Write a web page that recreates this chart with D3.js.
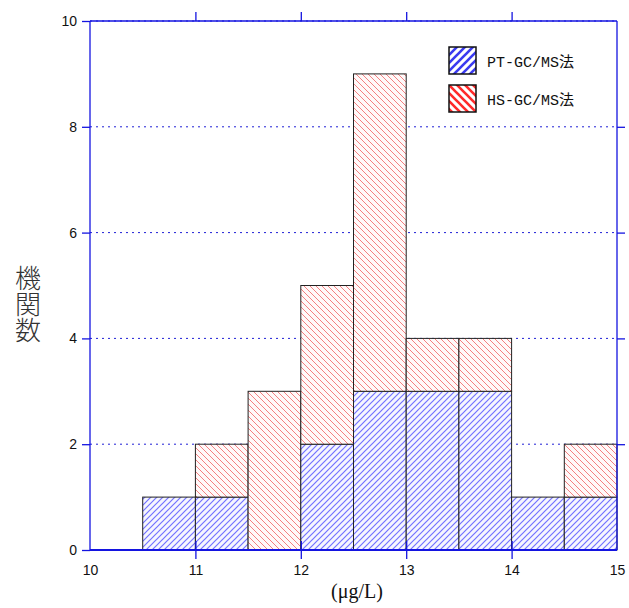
<!DOCTYPE html>
<html>
<head>
<meta charset="utf-8">
<script src="https://cdn.jsdelivr.net/npm/d3@7/dist/d3.min.js"></script>
<style>
  html, body { margin: 0; padding: 0; background: #fff; }
  svg { display: block; }
</style>
</head>
<body>
<svg id="chart" width="629" height="608"></svg>
<script>
// Histogram bins (lower edges, width 0.5 µg/L)
const binStart = [10.5, 11.0, 11.5, 12.0, 12.5, 13.0, 13.5, 14.0, 14.5];
const binWidth = 0.5;
// Number of labs per bin for each method
const ptValues = [1, 1, 0, 2, 3, 3, 3, 1, 1];
const hsValues = [0, 1, 3, 3, 6, 1, 1, 0, 1];
const seriesNames = ["PT-GC/MS法", "HS-GC/MS法"];
const xTicks = [10, 11, 12, 13, 14, 15];
const yTicks = [0, 2, 4, 6, 8, 10];

const svg = d3.select("#chart");
const margin = { left: 90, right: 12, top: 21, bottom: 58 };
const W = 629, H = 608;
const x = d3.scaleLinear().domain([10, 15]).range([margin.left, W - margin.right]);
const y = d3.scaleLinear().domain([0, 10]).range([H - margin.bottom, margin.top]);

// Hatch patterns
const defs = svg.append("defs");
function hatch(id, color, dir, size, width, bg) {
  const p = defs.append("pattern")
    .attr("id", id).attr("patternUnits", "userSpaceOnUse")
    .attr("width", size).attr("height", size);
  p.append("rect").attr("width", size).attr("height", size).attr("fill", bg);
  const d = dir > 0
    ? `M0,${size} L${size},0 M${-size/2},${size/2} L${size/2},${-size/2} M${size/2},${size*1.5} L${size*1.5},${size/2}`
    : `M0,0 L${size},${size} M${-size/2},${size/2} L${size/2},${size*1.5} M${size/2},${-size/2} L${size*1.5},${size/2}`;
  p.append("path").attr("d", d).attr("stroke", color).attr("stroke-width", width).attr("fill", "none");
}
hatch("hatchBlue", "#7272ff", 1.0, 6, 1.2, "#f6f6ff");
hatch("hatchRed", "#f48080", -1, 6, 1.0, "#fff9f9");
hatch("legBlue", "#3a3af0", 1, 8, 2.6, "#fff");
hatch("legRed", "#ff2a2a", -1, 8, 2.6, "#fff");

// Grid lines (dotted)
svg.append("g").selectAll("line").data(yTicks).join("line")
  .attr("x1", x(10)).attr("x2", x(15))
  .attr("y1", d => y(d)).attr("y2", d => y(d))
  .attr("stroke", "#1f1fd6").attr("stroke-width", 1)
  .attr("stroke-dasharray", "2,4");

// Stacked bars
const bars = svg.append("g");
binStart.forEach((b, i) => {
  const pt = ptValues[i], hs = hsValues[i];
  if (pt > 0) {
    bars.append("rect")
      .attr("x", x(b)).attr("width", x(b + binWidth) - x(b))
      .attr("y", y(pt)).attr("height", y(0) - y(pt))
      .attr("fill", "url(#hatchBlue)").attr("stroke", "#222").attr("stroke-width", 1);
  }
  if (hs > 0) {
    bars.append("rect")
      .attr("x", x(b)).attr("width", x(b + binWidth) - x(b))
      .attr("y", y(pt + hs)).attr("height", y(pt) - y(pt + hs))
      .attr("fill", "url(#hatchRed)").attr("stroke", "#222").attr("stroke-width", 1);
  }
});

// Frame
const axisColor = "#1414e0";
svg.append("line").attr("x1", x(10)).attr("x2", x(10)).attr("y1", y(0)).attr("y2", y(10))
  .attr("stroke", axisColor).attr("stroke-width", 1.3);
svg.append("line").attr("x1", x(15)).attr("x2", x(15)).attr("y1", y(0)).attr("y2", y(10))
  .attr("stroke", axisColor).attr("stroke-width", 1.3);
svg.append("line").attr("x1", x(10)).attr("x2", x(15)).attr("y1", y(0)).attr("y2", y(0))
  .attr("stroke", axisColor).attr("stroke-width", 2);

// Left axis
const axLeft = svg.append("g").attr("transform", `translate(${x(10)},0)`)
  .call(d3.axisLeft(y).tickValues(yTicks).tickSize(8).tickPadding(5).tickFormat(d3.format("d")));
// Right axis (ticks only)
const axRight = svg.append("g").attr("transform", `translate(${x(15)},0)`)
  .call(d3.axisRight(y).tickValues([2, 4, 6, 8]).tickSize(8).tickFormat(""));
// Top axis (ticks only)
const axTop = svg.append("g").attr("transform", `translate(0,${y(10)})`)
  .call(d3.axisTop(x).tickValues([11, 12, 13, 14]).tickSize(9).tickFormat(""));
axTop.append("line").attr("x1", x(10)).attr("x2", x(15)).attr("stroke", axisColor).attr("stroke-width", 1.3);
// Bottom axis
const axBottom = svg.append("g").attr("transform", `translate(0,${y(0)})`)
  .call(d3.axisBottom(x).tickValues(xTicks).tickSize(9).tickPadding(6).tickFormat(d3.format("d")));
axBottom.selectAll(".tick line").attr("y1", -9);

[axLeft, axRight, axTop, axBottom].forEach(g => {
  g.select(".domain").remove();
  g.selectAll(".tick line").attr("stroke", axisColor).attr("stroke-width", 1.3);
  g.selectAll(".tick text").attr("fill", "#111")
    .style("font-family", "'Liberation Sans', Arial, sans-serif").style("font-size", "14px");
});
axBottom.selectAll(".tick line").filter(d => d === 10 || d === 15).remove();

// Axis titles
svg.append("text")
  .attr("x", 28).attr("y", 304)
  .attr("text-anchor", "middle")
  .style("font-family", "'Noto Sans CJK JP', sans-serif").style("font-size", "26px")
  .style("font-weight", "300")
  .style("writing-mode", "vertical-rl").style("glyph-orientation-vertical", "0")
  .attr("fill", "#333")
  .text("機関数");

svg.append("text")
  .attr("x", 357).attr("y", 598)
  .attr("text-anchor", "middle")
  .style("font-family", "'Liberation Serif', 'Times New Roman', serif").style("font-size", "20px")
  .attr("fill", "#111")
  .text("(μg/L)");

// Legend
const legend = svg.append("g").attr("transform", "translate(449,47)");
const legFills = ["url(#legBlue)", "url(#legRed)"];
seriesNames.forEach((name, i) => {
  const g = legend.append("g").attr("transform", `translate(0,${i * 38})`);
  g.append("rect").attr("width", 27).attr("height", 27)
    .attr("fill", legFills[i]).attr("stroke", "#111").attr("stroke-width", 1.5);
  g.append("text").attr("x", 38).attr("y", 20)
    .style("font-family", "'Liberation Mono', 'Noto Sans CJK JP', monospace")
    .style("font-size", "15px").attr("fill", "#111")
    .text(name);
});
</script>
</body>
</html>
